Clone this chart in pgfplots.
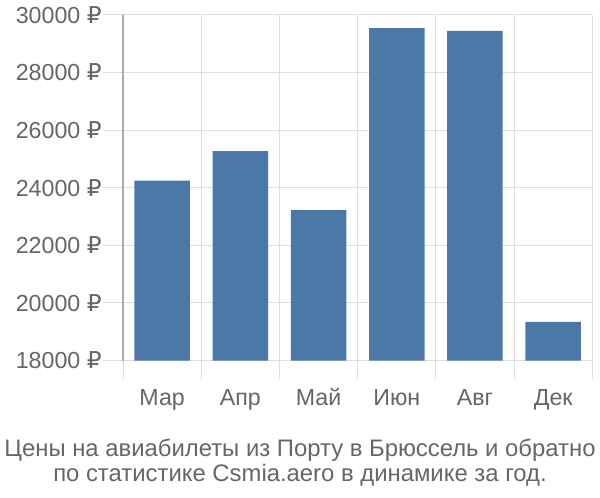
\documentclass[border=0pt]{standalone}
\usepackage{fontspec}
\setmainfont{Liberation Sans}
\newfontfamily\rubfont{DejaVu Sans}
\usepackage{pgfplots}
\pgfplotsset{compat=1.18}
\definecolor{barc}{HTML}{4C78A8}
\definecolor{txt}{HTML}{666666}
\definecolor{gridc}{HTML}{DDDDDD}
\definecolor{axc}{HTML}{AAAAAA}
\begin{document}
\begin{tikzpicture}[x=1pt,y=1pt]
\path (0,0) rectangle (450,375);
\begin{axis}[
 at={(91.5pt,103pt)}, anchor=south west,
 width=354pt, height=260.8pt, scale only axis,
 xmin=-0.5, xmax=5.5, ymin=18000, ymax=30000,
 axis x line*=bottom, axis y line*=left,
 x axis line style={gridc}, y axis line style={axc, line width=1pt},
 ybar, bar width=0.71, bar shift=0pt,
 xtick={0,...,5},
 xticklabels={Мар,Апр,Май,Июн,Авг,Дек},
 minor xtick={-0.5,0.5,...,5.5},
 xminorgrids, ymajorgrids,
 grid style={gridc, line width=0.75pt},
 minor grid style={gridc, line width=0.75pt},
 ytick={18000,20000,...,30000},
 scaled y ticks=false,
 tick align=outside,
 major tick length=15pt, minor tick length=14.25pt,
 x tick style={draw=none},
 minor x tick style={draw=gridc, line width=0.75pt},
 y tick style={draw=gridc, line width=0.75pt},
 ticklabel style={font=\fontsize{17.5}{20}\selectfont, text=txt},
 yticklabel={\pgfmathprintnumber[assume math mode=true, 1000 sep={}]{\tick}~{\rubfont ₽}},
 yticklabel style={inner sep=1pt},
 xticklabel style={text height=13pt, text depth=4pt, yshift=-2.5pt},
 clip=false,
]
\addplot[fill=barc, draw=none] coordinates {(0,24250) (1,25270) (2,23220) (3,29540) (4,29440) (5,19340)};
\end{axis}
\node[align=center, text=txt, font=\fontsize{18}{19.2}\selectfont] at (225pt,26.2pt) {Цены на авиабилеты из Порту в Брюссель и обратно\\по статистике Csmia.aero в динамике за год.};
\end{tikzpicture}
\end{document}
